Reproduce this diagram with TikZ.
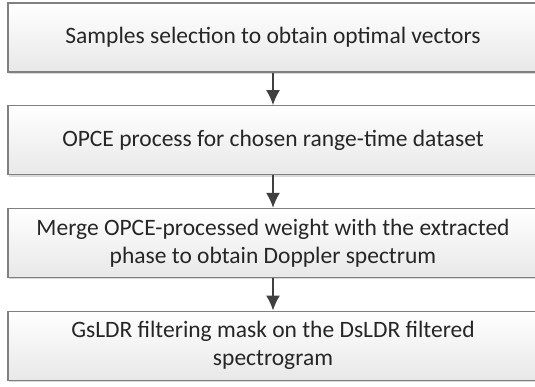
\documentclass[tikz,border=0pt]{standalone}
\usepackage{fontspec}
\setmainfont{Carlito}
\usetikzlibrary{arrows.meta,shadows}
\tikzset{%
  >={Latex[width=14pt,length=15pt]},
  % Specifications for style of nodes:
     base/.style = {rectangle, draw=black!50, line width=1.2pt,
                    minimum width=530pt, minimum height=69pt,
                    align=center, text=black!85, inner sep=2pt,
                    font=\fontsize{23.5}{28}\selectfont},
  process/.style = {base, top color=white, bottom color=black!9,
                    drop shadow={shadow xshift=1pt, shadow yshift=-2pt,
                                 opacity=0.3}},
}

\begin{document}
\begin{tikzpicture}[node distance=102.7pt]
  \useasboundingbox (0,0) rectangle (535pt,-387pt);
  % Specification of nodes (position, etc.)
  \node (select) [process] at (273pt,-37.5pt)
        {Samples selection to obtain optimal vectors};
  \node (opce)   [process, below of=select]
        {OPCE process for chosen range-time dataset};
  \node (merge)  [process, below of=opce]
        {Merge OPCE-processed weight with the extracted\\phase to obtain Doppler spectrum};
  \node (mask)   [process, below of=merge]
        {GsLDR filtering mask on the DsLDR filtered\\spectrogram};
  % Specification of lines between nodes specified above
  \draw[->, line width=1.5pt, black!75] (select) -- (opce);
  \draw[->, line width=1.5pt, black!75] (opce) -- (merge);
  \draw[->, line width=1.5pt, black!75] (merge) -- (mask);
\end{tikzpicture}
\end{document}
